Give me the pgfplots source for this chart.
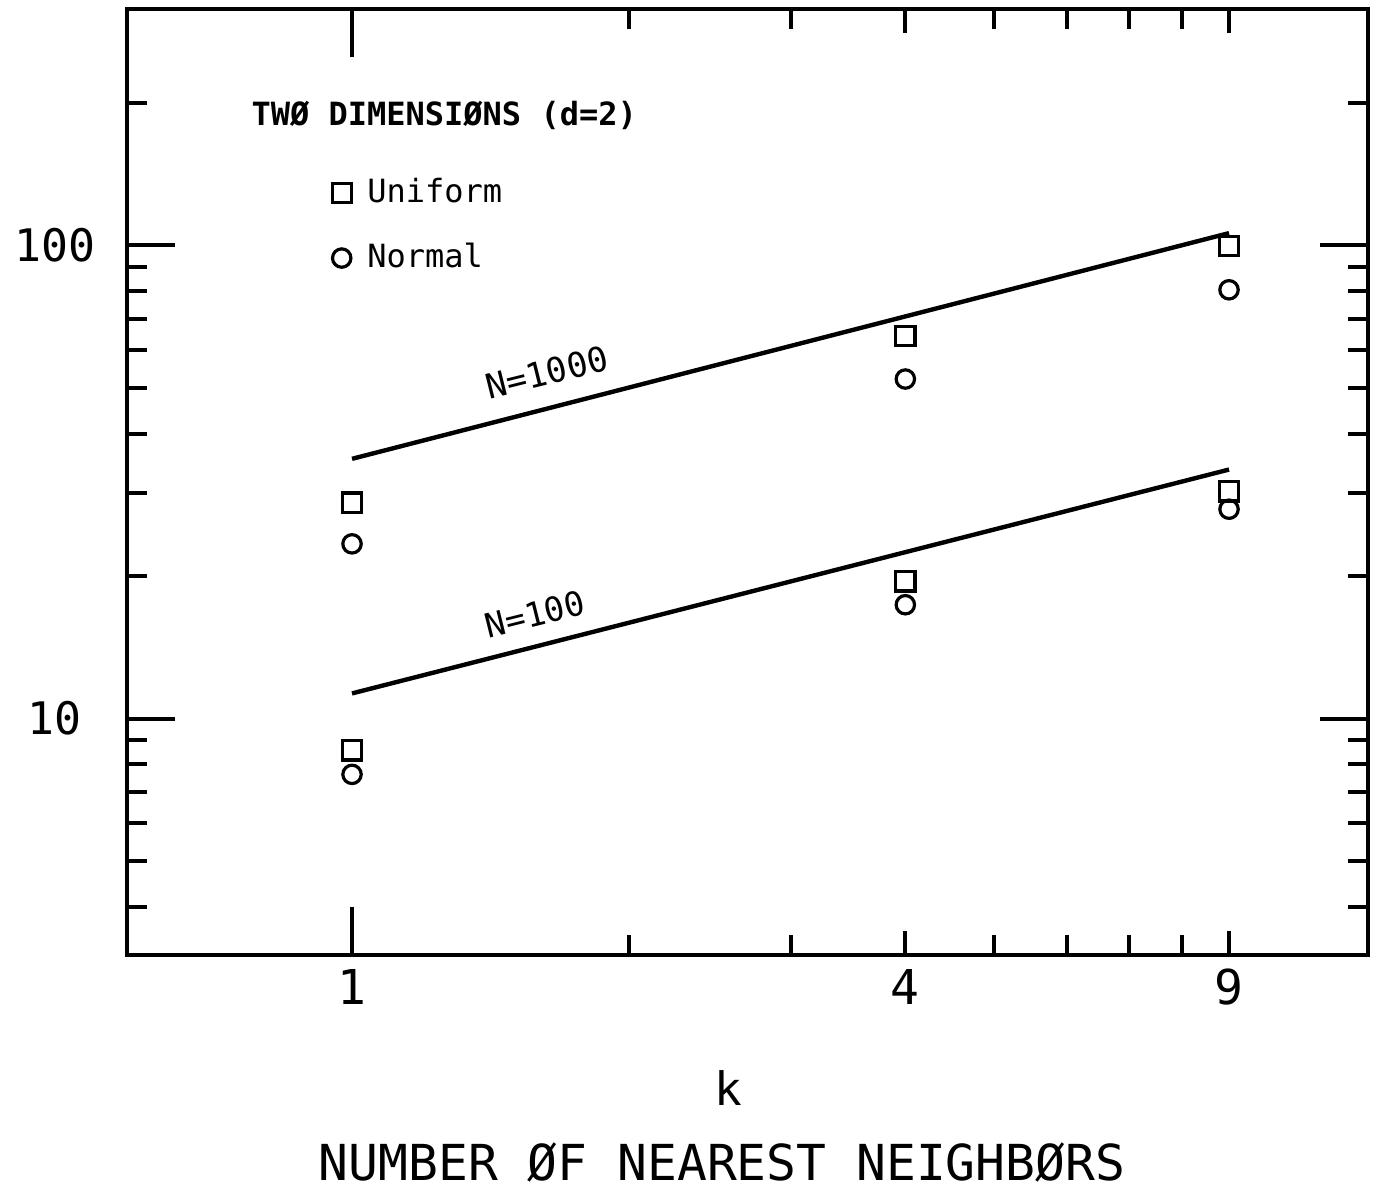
\documentclass[border=0pt]{standalone}
\usepackage{pgfplots}
\pgfplotsset{compat=1.18}
\usepackage{fontspec}
\setmainfont{DejaVu Sans Mono}

\begin{document}
\begin{tikzpicture}
\begin{axis}[
  xmode=log, ymode=log,
  scale only axis,
  width=310.25pt, height=236.5pt,
  xmin=0.569, xmax=12.75,
  ymin=3.162, ymax=316.2,
  axis line style={line width=1pt},
  tick style={line width=1pt, black},
  major tick length=12pt,
  minor tick length=5pt,
  xtick={1}, xticklabels={1},
  extra x ticks={4,9}, extra x tick labels={4,9},
  extra x tick style={major tick length=6pt},
  minor xtick={2,3,5,6,7,8},
  ytick={10,100}, yticklabels={10,100},
  minor ytick={4,5,6,7,8,9,20,30,40,50,60,70,80,90,200},
  xticklabel style={font=\fontsize{12}{14}\selectfont},
  yticklabel style={font=\fontsize{11.2}{13}\selectfont, anchor=center, xshift=-18pt},
  clip=false,
  legend cell align=left,
  legend style={draw=none, fill=none, at={(rel axis cs:0.155,0.839)}, anchor=north west,
    font=\fontsize{8}{10}\selectfont, row sep=4.6pt, column sep=2pt},
]
% Uniform
\addplot[only marks, mark=square, mark size=2.4pt, mark options={line width=0.8pt}]
  coordinates {(1,28.6) (4,64.3) (9,99.8)};
\addlegendentry{Uniform}
\addplot[only marks, mark=square, mark size=2.4pt, mark options={line width=0.8pt}, forget plot]
  coordinates {(1,8.56) (4,19.5) (9,30.2)};
% Normal
\addplot[only marks, mark=o, mark size=2.3pt, mark options={line width=0.8pt}]
  coordinates {(1,23.4) (4,52.2) (9,80.6)};
\addlegendentry{Normal}
\addplot[only marks, mark=o, mark size=2.3pt, mark options={line width=0.8pt}, forget plot]
  coordinates {(1,7.62) (4,17.4) (9,27.7)};
% fitted lines
\addplot[line width=1.1pt, forget plot] coordinates {(1,35.4) (9,106.2)};
\addplot[line width=1.1pt, forget plot] coordinates {(1,11.3) (9,33.6)};

\node[font=\bfseries\fontsize{8}{10}\selectfont, anchor=west] at (rel axis cs:0.089,0.888) {TWØ DIMENSIØNS (d=2)};
\node[font=\fontsize{8.6}{10}\selectfont, rotate=14] at (rel axis cs:0.3384,0.6163) {N=1000};
\node[font=\fontsize{8.4}{10}\selectfont, rotate=14] at (rel axis cs:0.3288,0.3605) {N=100};
\node[font=\fontsize{11.5}{13}\selectfont] at (rel axis cs:0.4843,-0.1406) {k};
\node[font=\fontsize{12.4}{14}\selectfont] at (rel axis cs:0.4795,-0.2188) {NUMBER ØF NEAREST NEIGHBØRS};

\coordinate (bl) at (rel axis cs:-0.1023,-0.2495);
\coordinate (tr) at (rel axis cs:1.0048,1.0095);
\end{axis}
\path (bl) rectangle (tr);
\end{tikzpicture}
\end{document}
